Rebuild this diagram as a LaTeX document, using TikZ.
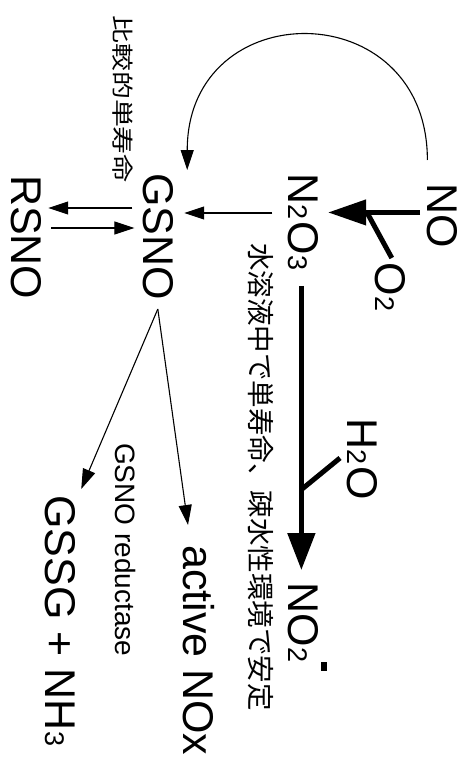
\documentclass[tikz,border=0pt]{standalone}
\usepackage{fontspec}
\setmainfont{Liberation Sans}
\newfontfamily\jpfont{Noto Sans CJK JP}
\usetikzlibrary{arrows.meta,calc}
% smaller digits sitting on the baseline (subscript-like)
\newcommand\chemsub[1]{{\fontsize{27}{27}\selectfont\kern0.5pt#1\kern1.5pt}}
% short raised bar for the negative charge
\newcommand\chemminus{\raisebox{32.5pt}{\rule{9pt}{6pt}}}
\begin{document}
\begin{tikzpicture}[x=1pt,y=-1pt,
  chem/.style={rotate=-90,anchor=base west,inner sep=0pt,font=\fontsize{43}{43}\selectfont},
  smalltext/.style={rotate=-90,anchor=base west,inner sep=0pt,font=\fontsize{28}{28}\selectfont},
  jp/.style={rotate=-90,anchor=west,inner sep=0pt},
  thinarrow/.style={line width=1.1pt,-{Triangle[length=20pt,width=13pt]}},
  bigarrow/.style={line width=5pt,-{Triangle[length=37pt,width=27pt]}},
  branch/.style={line width=5pt}]
\useasboundingbox (0,0) rectangle (468,768);
\fill[white] (0,0) rectangle (468,768);

% species
\node[chem] (NO)   at (427,183) {NO};
\node[chem] (O2)   at (375,262) {O\chemsub{2}};
\node[chem] (N2O3) at (288,173) {N\chemsub{2}O\chemsub{3}};
\node[chem] (GSNO) at (143,173) {GSNO};
\node[chem] (RSNO) at (12,175)  {RSNO};
\node[chem] (H2O)  at (347,418) {H\chemsub{2}O};
\node[chem] (NO2)  at (288,582) {NO\chemsub{2}\kern-1.5pt\chemminus};
\node[chem] (NOx)  at (183,545) {active NOx};
\node[chem] (GSSG) at (45,495)  {GSSG + NH\chemsub{3}};
\node[smalltext] (red) at (115,443) {GSNO reductase};

% notes
\node[jp] (shortlife) at (123,15)
  {\scalebox{1.27}[1]{\jpfont\fontsize{22}{22}\selectfont 比較的単寿命}};
\node[jp] (stable) at (260.5,243)
  {\jpfont\fontsize{27.5}{27.5}\selectfont 水溶液中で単寿命、疎水性環境で安定};

% NO + O2 -> N2O3
\coordinate (noStart) at ($(NO.base)+(-7,-3)$);
\coordinate (noTip)   at ($(NO.base -| N2O3.north)+(10,-3)$);
\draw[line width=4.5pt,-{Triangle[length=38pt,width=25pt]}] (noStart) -- (noTip);
\draw[branch] ($(O2.west)+(2,-4)$) -- ($(noStart)!0.578!(noTip)$);

% N2O3 + H2O -> NO2-
\coordinate (mainTop) at ($(N2O3.south east)+(14,14)$);
\coordinate (mainTip) at ($(NO2.south west)+(14,-12)$);
\draw[bigarrow] (mainTop) -- (mainTip);
\draw[branch] ($(H2O.base west)+(-7,40)$) -- ($(mainTop)!0.717!(mainTip)$);

% NO directly to GSNO
\draw[thinarrow] ($(NO.south west)+(1,-23)$)
  .. controls +(0,-167) and +(0,-177) .. ($(GSNO.north west)+(14,-3)$);

% N2O3 -> GSNO
\draw[thinarrow] ($(N2O3.south west)+(-15,40)$) -- ($(GSNO.north west)+(11,40)$);

% GSNO <-> RSNO
\draw[thinarrow] ($(GSNO.south west)+(-10,35)$) -- ($(RSNO.north west)+(6,33)$);
\draw[thinarrow] ($(RSNO.north west)+(9,53)$) -- ($(GSNO.south west)+(-8,55)$);

% GSNO -> products
\draw[thinarrow] ($(GSNO.east)+(0,9)$) -- ($(GSSG.north west)+(6,-6)$);
\draw[thinarrow] ($(GSNO.east)+(0,9)$) -- ($(NOx.base west)+(5,-20)$);
\end{tikzpicture}
\end{document}
